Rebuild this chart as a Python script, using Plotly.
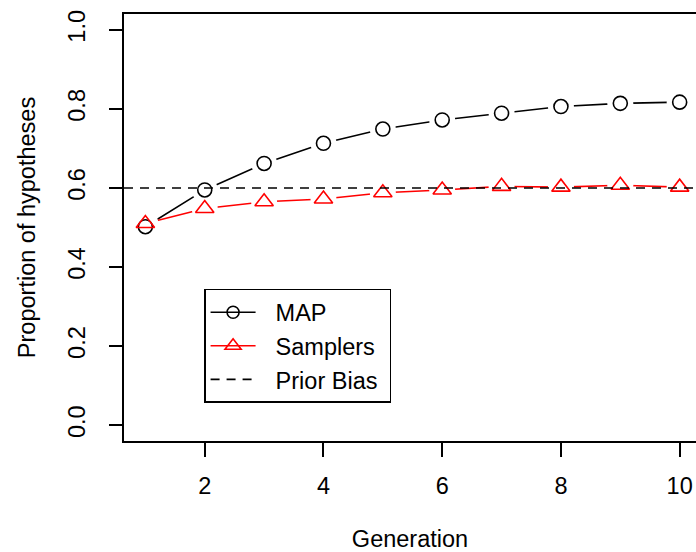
import plotly.graph_objects as go

# ---- data ----
generation = [1, 2, 3, 4, 5, 6, 7, 8, 9, 10]
map_values = [0.502, 0.595, 0.662, 0.713, 0.749, 0.772, 0.789, 0.806, 0.814, 0.817]
sampler_values = [0.510, 0.548, 0.565, 0.572, 0.588, 0.595, 0.604, 0.602, 0.607, 0.602]
prior_bias = 0.6
x_ticks = [2, 4, 6, 8, 10]
y_ticks = [0.0, 0.2, 0.4, 0.6, 0.8, 1.0]
y_tick_labels = ["0.0", "0.2", "0.4", "0.6", "0.8", "1.0"]
legend_names = ["MAP", "Samplers", "Prior Bias"]

FONT = "Liberation Sans, Arial, Helvetica, sans-serif"
FS = 23.5
LW = 1.6
PAD = "\u00a0\u00a0\u200a"

fig = go.Figure()

# connecting lines
fig.add_trace(go.Scatter(x=generation, y=map_values, mode="lines",
                         line=dict(color="black", width=LW), showlegend=False, hoverinfo="skip"))
fig.add_trace(go.Scatter(x=generation, y=sampler_values, mode="lines",
                         line=dict(color="red", width=LW), showlegend=False, hoverinfo="skip"))
# white discs to create the gaps of R's type="b"
for vals in (map_values, sampler_values):
    fig.add_trace(go.Scatter(x=generation, y=vals, mode="markers",
                             marker=dict(symbol="circle", size=26, color="white", line=dict(width=0)),
                             showlegend=False, hoverinfo="skip"))
# point symbols
fig.add_trace(go.Scatter(x=generation, y=map_values, mode="markers",
                         marker=dict(symbol="circle-open", size=14, color="black", line=dict(width=LW)),
                         showlegend=False))
fig.add_trace(go.Scatter(x=generation, y=sampler_values, mode="markers",
                         marker=dict(symbol="triangle-up-open", size=16, color="red", line=dict(width=LW)),
                         showlegend=False))

# legend entries
fig.add_trace(go.Scatter(x=[None], y=[None], mode="lines+markers", name=PAD + legend_names[0],
                         line=dict(color="black", width=LW),
                         marker=dict(symbol="circle-open", size=12, color="black", line=dict(width=LW))))
fig.add_trace(go.Scatter(x=[None], y=[None], mode="lines+markers", name=PAD + legend_names[1],
                         line=dict(color="red", width=LW),
                         marker=dict(symbol="triangle-up-open", size=14, color="red", line=dict(width=LW))))
fig.add_trace(go.Scatter(x=[None], y=[None], mode="lines", name=PAD + legend_names[2] + "\u00a0",
                         line=dict(color="black", width=LW, dash="9px,7px")))

# prior bias reference line
fig.add_shape(type="line", xref="x domain", yref="y", x0=0, x1=1, y0=prior_bias, y1=prior_bias,
              line=dict(color="black", width=LW, dash="9px,7px"), layer="above")

fig.update_layout(
    width=696, height=552,
    margin=dict(l=124, r=0, t=14, b=111),
    paper_bgcolor="white", plot_bgcolor="white",
    font=dict(family=FONT, size=FS, color="black"),
    showlegend=True,
    legend=dict(x=0.14, y=0.356, xanchor="left", yanchor="top",
                bgcolor="white", bordercolor="black", borderwidth=1.5,
                font=dict(family=FONT, size=FS, color="black"),
                itemwidth=45, tracegroupgap=0),
    xaxis=dict(range=[0.64, 10.275], tickvals=x_ticks, ticks="outside", ticklen=14,
               tickwidth=1.5, tickcolor="black", showline=True, linecolor="black", linewidth=2,
               mirror=True, showgrid=False, zeroline=False, ticklabelstandoff=9, automargin=False,
               title=dict(text="Generation", standoff=40, font=dict(size=FS)),
               tickfont=dict(size=FS)),
    yaxis=dict(range=[-0.04, 1.04], tickvals=y_ticks, ticktext=y_tick_labels, ticks="outside",
               ticklen=13, tickwidth=1.5, tickcolor="black", tickangle=-90,
               showline=True, linecolor="black", linewidth=2, mirror=False, automargin=False,
               showgrid=False, zeroline=False, ticklabelstandoff=15,
               title=dict(text="Proportion of hypotheses", standoff=21, font=dict(size=FS)),
               tickfont=dict(size=FS)),
)

fig.write_html("out.html")
